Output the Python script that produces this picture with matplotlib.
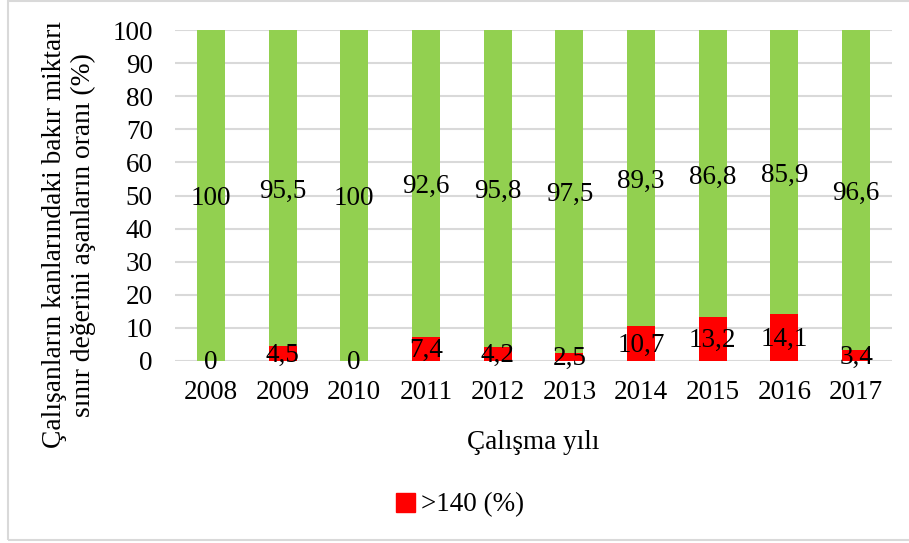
import matplotlib
matplotlib.use("Agg")
import matplotlib.pyplot as plt
from matplotlib.patches import Rectangle, Patch

years = ["2008", "2009", "2010", "2011", "2012", "2013", "2014", "2015", "2016", "2017"]
over_140 = [0, 4.5, 0, 7.4, 4.2, 2.5, 10.7, 13.2, 14.1, 3.4]
under_140 = [100, 95.5, 100, 92.6, 95.8, 97.5, 89.3, 86.8, 85.9, 96.6]
over_labels = ["0", "4,5", "0", "7,4", "4,2", "2,5", "10,7", "13,2", "14,1", "3,4"]
under_labels = ["100", "95,5", "100", "92,6", "95,8", "97,5", "89,3", "86,8", "85,9", "96,6"]
yticks = [0, 10, 20, 30, 40, 50, 60, 70, 80, 90, 100]

plt.rcParams['font.family'] = ['Liberation Serif', 'DejaVu Serif']
FS = 19.5

W, H = 909, 543
fig = plt.figure(figsize=(W / 100, H / 100), dpi=100)
ax = fig.add_axes([175 / W, 1 - 361 / H, (892 - 175) / W, (361 - 30) / H])

x = list(range(len(years)))
red = "#FF0000"
green = "#92D050"
bw = 0.39
ax.bar(x, over_140, width=bw, color=red, zorder=3)
ax.bar(x, under_140, width=bw, bottom=over_140, color=green, zorder=3)

for i in x:
    ax.text(i, over_140[i] / 2 - 0.5, over_labels[i], ha="center", va="center", fontsize=FS, zorder=4)
    ax.text(i, over_140[i] + under_140[i] / 2 - 1.0, under_labels[i], ha="center", va="center", fontsize=FS, zorder=4)

ax.set_xlim(-0.5, len(years) - 0.5)
ax.set_ylim(0, 100)
ax.set_yticks(yticks)
ax.set_yticklabels([str(v) for v in yticks], fontsize=FS)
ax.set_xticks(x)
ax.set_xticklabels(years, fontsize=FS)
ax.tick_params(axis="both", length=0)
ax.tick_params(axis="y", pad=16)
ax.tick_params(axis="x", pad=14)
ax.grid(axis="y", color="#D9D9D9", linewidth=1.5, zorder=0)
for s in ax.spines.values():
    s.set_visible(False)

ax.set_xlabel("Çalışma yılı", fontsize=FS, labelpad=18)

fig.text(69 / W, 1 - 235 / H,
         "Çalışanların kanlarındaki bakır miktarı\nsınır değerini aşanların oranı (%)",
         rotation=90, ha="center", va="center", fontsize=19.8, linespacing=1.2)

fig.legend(handles=[Patch(color=red, label=">140 (%)")], loc="center",
           bbox_to_anchor=(460 / W, 1 - 505 / H), frameon=False, fontsize=FS,
           handlelength=0.7, handleheight=0.7, handletextpad=0.2)

fig.patches.append(Rectangle((8 / W, 1 - 540 / H), (W + 5 - 8) / W, (539) / H,
                             transform=fig.transFigure, fill=False,
                             edgecolor="#D9D9D9", linewidth=1.5))

fig.savefig("out.png", dpi=100)
